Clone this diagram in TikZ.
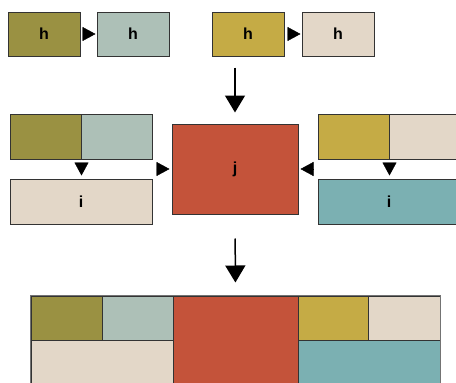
\documentclass[tikz,border=0pt]{standalone}
\usepackage{fontspec}
\setmainfont{Liberation Sans}
\usetikzlibrary{arrows.meta}
\definecolor{cOlive}{HTML}{9A9142}
\definecolor{cSage}{HTML}{ADC0B7}
\definecolor{cGold}{HTML}{C5AB45}
\definecolor{cSand}{HTML}{E3D7C8}
\definecolor{cBrick}{HTML}{C4533A}
\definecolor{cTeal}{HTML}{7BB0B2}
\tikzset{
	blk/.style={draw=black!80, line width=1pt, inner sep=0pt, font=\bfseries\fontsize{16}{16}\selectfont},
	tiptri/.style={-{Triangle[length=13pt,width=14pt]}, draw=black, line width=0.4pt},
	bigarrow/.style={line width=1.5pt, -{Triangle[length=17pt,width=20pt]}}
}
\begin{document}
\begin{tikzpicture}[x=1pt, y=-1pt]
			\useasboundingbox (0,0) rectangle (456,383);
			\clip (0,0) rectangle (456,383);
			% Top row:
			\node[blk, fill=cOlive, minimum width=72, minimum height=44] (h1) at (44,34) {h};
			\node[blk, fill=cSage, minimum width=72, minimum height=44] (h2) at (133,34) {h};
			\node[blk, fill=cGold, minimum width=72, minimum height=44] (h3) at (248,34) {h};
			\node[blk, fill=cSand, minimum width=72, minimum height=44] (h4) at (338,34) {h};
			\draw[tiptri, shorten <=3pt, shorten >=1pt] (h1.east) -- (h2.west);
			\draw[tiptri, shorten <=3pt, shorten >=1pt] (h3.east) -- (h4.west);
			% Middle row:
			\node[blk, fill=cOlive, minimum width=71, minimum height=45] (la) at (45.5,136.5) {};
			\node[blk, fill=cSage, minimum width=71, minimum height=45] (lb) at (116.5,136.5) {};
			\node[blk, fill=cSand, minimum width=142, minimum height=45] (li) at (81,201.5) {i};
			\node[blk, fill=cBrick, minimum width=126, minimum height=90] (j) at (235,169) {j};
			\node[blk, fill=cGold, minimum width=71, minimum height=45] (ra) at (353.5,136.5) {};
			\node[blk, fill=cSand, minimum width=71, minimum height=45] (rb) at (424.5,136.5) {};
			\node[blk, fill=cTeal, minimum width=142, minimum height=45] (ri) at (389,201.5) {i};
			\draw[tiptri, shorten <=4pt, shorten >=3pt] (la.south east) -- (li.north -| la.south east);
			\draw[tiptri, shorten <=4pt, shorten >=3pt] (ra.south east) -- (ri.north -| ra.south east);
			\draw[tiptri, shorten <=4pt, shorten >=2pt] (j.west -| lb.east) -- (j.west);
			\draw[tiptri, shorten <=4pt, shorten >=2pt] (j.east -| ra.west) -- (j.east);
			\draw[bigarrow, shorten <=11pt, shorten >=11pt] (j.north |- h3.south) -- (j.north);
			% Bottom block:
			\node[blk, fill=cOlive, minimum width=71, minimum height=44] (c1) at (66.5,318) {};
			\node[blk, fill=cSage, minimum width=71, minimum height=44] (c2) at (137.5,318) {};
			\node[blk, fill=cSand, minimum width=142, minimum height=44] (c3) at (102,362) {};
			\node[blk, fill=cBrick, minimum width=125, minimum height=88] (cj) at (235.5,340) {};
			\node[blk, fill=cGold, minimum width=70, minimum height=44] (c4) at (333,318) {};
			\node[blk, fill=cSand, minimum width=72, minimum height=44] (c5) at (404,318) {};
			\node[blk, fill=cTeal, minimum width=142, minimum height=44] (c6) at (369,362) {};
			\draw[black!55, line width=1.3pt] (c1.north west) rectangle (c6.south east);
			\draw[bigarrow, shorten <=24pt, shorten >=13pt] (j.south) -- (cj.north);
\end{tikzpicture}
\end{document}
